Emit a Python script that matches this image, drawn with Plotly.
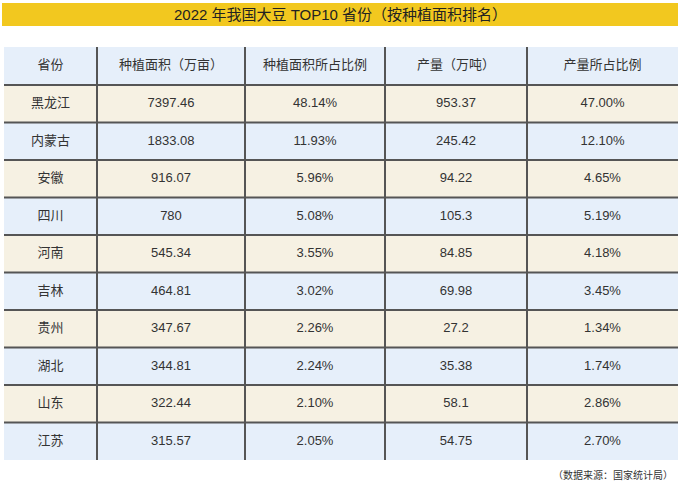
import plotly.graph_objects as go

provinces = ["黑龙江", "内蒙古", "安徽", "四川", "河南", "吉林", "贵州", "湖北", "山东", "江苏"]
area = [7397.46, 1833.08, 916.07, 780, 545.34, 464.81, 347.67, 344.81, 322.44, 315.57]
area_share = [48.14, 11.93, 5.96, 5.08, 3.55, 3.02, 2.26, 2.24, 2.10, 2.05]
output = [953.37, 245.42, 94.22, 105.3, 84.85, 69.98, 27.2, 35.38, 58.1, 54.75]
output_share = [47.00, 12.10, 4.65, 5.19, 4.18, 3.45, 1.34, 1.74, 2.86, 2.70]
headers = ["省份", "种植面积（万亩）", "种植面积所占比例", "产量（万吨）", "产量所占比例"]

title_text = "2022 年我国大豆 TOP10 省份（按种植面积排名）"
source_text = "（数据来源：国家统计局）"

# layout (pixels)
W, H = 680, 482
col_widths = [93, 148, 140, 142, 151]
header_h = 38
row_h = 37.5

FONT = "Liberation Sans, Noto Sans CJK SC, sans-serif"
CREAM = "#F6F1E3"
BLUE = "#E6EFFA"
LINE = "#555555"
TEXT = "#333333"

cols = [
    provinces,
    [f"{v:g}" for v in area],
    [f"{v:.2f}%" for v in area_share],
    [f"{v:g}" for v in output],
    [f"{v:.2f}%" for v in output_share],
]
n_rows = len(provinces)
n_cols = len(cols)

# cell edges in table units
x_edges = [0]
for w in col_widths:
    x_edges.append(x_edges[-1] + w)
y_edges = [0, header_h]
for _ in range(n_rows):
    y_edges.append(y_edges[-1] + row_h)
x_centers = [(x_edges[i] + x_edges[i + 1]) / 2 for i in range(n_cols)]
y_centers = [(y_edges[i] + y_edges[i + 1]) / 2 for i in range(n_rows + 1)]

# fill: 0 = blue, 1 = cream ; header blue, then alternating cream / blue
z = [[0] * n_cols] + [[1 if r % 2 == 0 else 0] * n_cols for r in range(n_rows)]

fig = go.Figure()
fig.add_trace(go.Heatmap(
    x=x_edges, y=y_edges, z=z,
    colorscale=[[0, BLUE], [1, CREAM]], zmin=0, zmax=1,
    showscale=False, hoverinfo="skip",
))

tx, ty, tt = [], [], []
for c in range(n_cols):
    tx.append(x_centers[c]); ty.append(y_centers[0]); tt.append(headers[c])
    for r in range(n_rows):
        tx.append(x_centers[c]); ty.append(y_centers[r + 1]); tt.append(cols[c][r])
fig.add_trace(go.Scatter(
    x=tx, y=ty, text=tt, mode="text", textposition="middle center",
    textfont=dict(family=FONT, size=13, color=TEXT), hoverinfo="skip",
))

shapes = [dict(type="rect", xref="paper", yref="paper",
               x0=2 / W, x1=678 / W, y0=1 - 26 / H, y1=1 - 3 / H,
               fillcolor="#F2C81F", line=dict(width=0), layer="below")]
for xe in x_edges[1:-1]:
    shapes.append(dict(type="line", xref="x", yref="y", x0=xe, x1=xe,
                       y0=y_edges[0], y1=y_edges[-1],
                       line=dict(color=LINE, width=2), layer="above"))
for ye in y_edges[1:-1]:
    shapes.append(dict(type="line", xref="x", yref="y", x0=x_edges[0], x1=x_edges[-1],
                       y0=ye, y1=ye, line=dict(color=LINE, width=2), layer="above"))

fig.update_layout(
    width=W, height=H,
    margin=dict(l=0, r=0, t=0, b=0),
    paper_bgcolor="white", plot_bgcolor="white",
    showlegend=False,
    xaxis=dict(domain=[4 / W, 678 / W], range=[x_edges[0], x_edges[-1]],
               visible=False, fixedrange=True),
    yaxis=dict(domain=[1 - 460 / H, 1 - 47 / H], range=[y_edges[-1], y_edges[0]],
               visible=False, fixedrange=True),
    shapes=shapes,
    annotations=[
        dict(text=title_text, xref="paper", yref="paper", x=0.5, y=1 - 14.5 / H,
             xanchor="center", yanchor="middle", showarrow=False,
             font=dict(family=FONT, size=15, color="#222222")),
        dict(text=source_text, xref="paper", yref="paper", x=675 / W, y=1 - 474 / H,
             xanchor="right", yanchor="middle", showarrow=False,
             font=dict(family="Noto Sans CJK SC", size=10, color=TEXT)),
    ],
)

fig.write_html("out.html", config={"displayModeBar": False},
               post_script="document.body.style.margin='0';")
